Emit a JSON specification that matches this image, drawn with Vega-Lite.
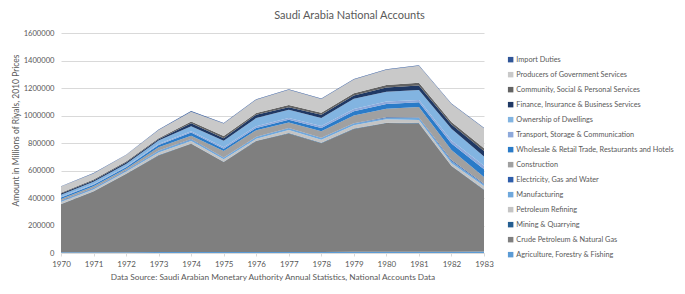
{
"$schema": "https://vega.github.io/schema/vega-lite/v6.json",
"width": 423, "height": 220,
"autosize": {"type": "none"},
"padding": {"left": 61, "top": 33, "right": 201, "bottom": 41},
"background": "white",
"config": {"view": {"stroke": null}, "font": "Lato"},
"title": {"text": "Saudi Arabia National Accounts", "fontSize": 11, "font": "Lato", "fontWeight": "normal", "color": "#595959", "frame": "group", "anchor": "middle", "dx": 77, "offset": 8},
"datasets": {"d": [
{"year":1970,"sector":"Agriculture, Forestry & Fishing","value":6000},
{"year":1970,"sector":"Crude Petroleum & Natural Gas","value":349000},
{"year":1970,"sector":"Mining & Quarrying","value":2000},
{"year":1970,"sector":"Petroleum Refining","value":14000},
{"year":1970,"sector":"Manufacturing","value":8000},
{"year":1970,"sector":"Electricity, Gas and Water","value":2000},
{"year":1970,"sector":"Construction","value":12000},
{"year":1970,"sector":"Wholesale & Retail Trade, Restaurants and Hotels","value":10000},
{"year":1970,"sector":"Transport, Storage & Communication","value":6000},
{"year":1970,"sector":"Ownership of Dwellings","value":15000},
{"year":1970,"sector":"Finance, Insurance & Business Services","value":8000},
{"year":1970,"sector":"Community, Social & Personal Services","value":7000},
{"year":1970,"sector":"Producers of Government Services","value":44000},
{"year":1970,"sector":"Import Duties","value":3000},
{"year":1971,"sector":"Agriculture, Forestry & Fishing","value":6000},
{"year":1971,"sector":"Crude Petroleum & Natural Gas","value":442000},
{"year":1971,"sector":"Mining & Quarrying","value":2000},
{"year":1971,"sector":"Petroleum Refining","value":12000},
{"year":1971,"sector":"Manufacturing","value":8000},
{"year":1971,"sector":"Electricity, Gas and Water","value":2000},
{"year":1971,"sector":"Construction","value":13000},
{"year":1971,"sector":"Wholesale & Retail Trade, Restaurants and Hotels","value":11000},
{"year":1971,"sector":"Transport, Storage & Communication","value":6000},
{"year":1971,"sector":"Ownership of Dwellings","value":16000},
{"year":1971,"sector":"Finance, Insurance & Business Services","value":9000},
{"year":1971,"sector":"Community, Social & Personal Services","value":7000},
{"year":1971,"sector":"Producers of Government Services","value":44000},
{"year":1971,"sector":"Import Duties","value":3000},
{"year":1972,"sector":"Agriculture, Forestry & Fishing","value":6000},
{"year":1972,"sector":"Crude Petroleum & Natural Gas","value":569000},
{"year":1972,"sector":"Mining & Quarrying","value":2000},
{"year":1972,"sector":"Petroleum Refining","value":14000},
{"year":1972,"sector":"Manufacturing","value":8000},
{"year":1972,"sector":"Electricity, Gas and Water","value":2000},
{"year":1972,"sector":"Construction","value":12000},
{"year":1972,"sector":"Wholesale & Retail Trade, Restaurants and Hotels","value":11000},
{"year":1972,"sector":"Transport, Storage & Communication","value":6000},
{"year":1972,"sector":"Ownership of Dwellings","value":18000},
{"year":1972,"sector":"Finance, Insurance & Business Services","value":10000},
{"year":1972,"sector":"Community, Social & Personal Services","value":8000},
{"year":1972,"sector":"Producers of Government Services","value":46000},
{"year":1972,"sector":"Import Duties","value":3000},
{"year":1973,"sector":"Agriculture, Forestry & Fishing","value":7000},
{"year":1973,"sector":"Crude Petroleum & Natural Gas","value":703000},
{"year":1973,"sector":"Mining & Quarrying","value":2000},
{"year":1973,"sector":"Petroleum Refining","value":19000},
{"year":1973,"sector":"Manufacturing","value":12000},
{"year":1973,"sector":"Electricity, Gas and Water","value":2000},
{"year":1973,"sector":"Construction","value":24000},
{"year":1973,"sector":"Wholesale & Retail Trade, Restaurants and Hotels","value":17000},
{"year":1973,"sector":"Transport, Storage & Communication","value":6000},
{"year":1973,"sector":"Ownership of Dwellings","value":26000},
{"year":1973,"sector":"Finance, Insurance & Business Services","value":10000},
{"year":1973,"sector":"Community, Social & Personal Services","value":7000},
{"year":1973,"sector":"Producers of Government Services","value":60000},
{"year":1973,"sector":"Import Duties","value":3000},
{"year":1974,"sector":"Agriculture, Forestry & Fishing","value":7000},
{"year":1974,"sector":"Crude Petroleum & Natural Gas","value":788000},
{"year":1974,"sector":"Mining & Quarrying","value":2000},
{"year":1974,"sector":"Petroleum Refining","value":17000},
{"year":1974,"sector":"Manufacturing","value":12000},
{"year":1974,"sector":"Electricity, Gas and Water","value":3000},
{"year":1974,"sector":"Construction","value":24000},
{"year":1974,"sector":"Wholesale & Retail Trade, Restaurants and Hotels","value":24000},
{"year":1974,"sector":"Transport, Storage & Communication","value":8000},
{"year":1974,"sector":"Ownership of Dwellings","value":36000},
{"year":1974,"sector":"Finance, Insurance & Business Services","value":22000},
{"year":1974,"sector":"Community, Social & Personal Services","value":13000},
{"year":1974,"sector":"Producers of Government Services","value":72000},
{"year":1974,"sector":"Import Duties","value":4000},
{"year":1975,"sector":"Agriculture, Forestry & Fishing","value":7000},
{"year":1975,"sector":"Crude Petroleum & Natural Gas","value":654000},
{"year":1975,"sector":"Mining & Quarrying","value":2000},
{"year":1975,"sector":"Petroleum Refining","value":19000},
{"year":1975,"sector":"Manufacturing","value":10000},
{"year":1975,"sector":"Electricity, Gas and Water","value":2000},
{"year":1975,"sector":"Construction","value":48000},
{"year":1975,"sector":"Wholesale & Retail Trade, Restaurants and Hotels","value":17000},
{"year":1975,"sector":"Transport, Storage & Communication","value":10000},
{"year":1975,"sector":"Ownership of Dwellings","value":48000},
{"year":1975,"sector":"Finance, Insurance & Business Services","value":17000},
{"year":1975,"sector":"Community, Social & Personal Services","value":17000},
{"year":1975,"sector":"Producers of Government Services","value":90000},
{"year":1975,"sector":"Import Duties","value":4000},
{"year":1976,"sector":"Agriculture, Forestry & Fishing","value":8000},
{"year":1976,"sector":"Crude Petroleum & Natural Gas","value":806000},
{"year":1976,"sector":"Mining & Quarrying","value":3000},
{"year":1976,"sector":"Petroleum Refining","value":14000},
{"year":1976,"sector":"Manufacturing","value":12000},
{"year":1976,"sector":"Electricity, Gas and Water","value":2000},
{"year":1976,"sector":"Construction","value":48000},
{"year":1976,"sector":"Wholesale & Retail Trade, Restaurants and Hotels","value":17000},
{"year":1976,"sector":"Transport, Storage & Communication","value":12000},
{"year":1976,"sector":"Ownership of Dwellings","value":60000},
{"year":1976,"sector":"Finance, Insurance & Business Services","value":24000},
{"year":1976,"sector":"Community, Social & Personal Services","value":12000},
{"year":1976,"sector":"Producers of Government Services","value":97000},
{"year":1976,"sector":"Import Duties","value":4000},
{"year":1977,"sector":"Agriculture, Forestry & Fishing","value":8000},
{"year":1977,"sector":"Crude Petroleum & Natural Gas","value":862000},
{"year":1977,"sector":"Mining & Quarrying","value":3000},
{"year":1977,"sector":"Petroleum Refining","value":22000},
{"year":1977,"sector":"Manufacturing","value":12000},
{"year":1977,"sector":"Electricity, Gas and Water","value":2000},
{"year":1977,"sector":"Construction","value":41000},
{"year":1977,"sector":"Wholesale & Retail Trade, Restaurants and Hotels","value":19000},
{"year":1977,"sector":"Transport, Storage & Communication","value":12000},
{"year":1977,"sector":"Ownership of Dwellings","value":60000},
{"year":1977,"sector":"Finance, Insurance & Business Services","value":19000},
{"year":1977,"sector":"Community, Social & Personal Services","value":17000},
{"year":1977,"sector":"Producers of Government Services","value":110000},
{"year":1977,"sector":"Import Duties","value":4000},
{"year":1978,"sector":"Agriculture, Forestry & Fishing","value":8000},
{"year":1978,"sector":"Crude Petroleum & Natural Gas","value":791000},
{"year":1978,"sector":"Mining & Quarrying","value":3000},
{"year":1978,"sector":"Petroleum Refining","value":22000},
{"year":1978,"sector":"Manufacturing","value":12000},
{"year":1978,"sector":"Electricity, Gas and Water","value":2000},
{"year":1978,"sector":"Construction","value":48000},
{"year":1978,"sector":"Wholesale & Retail Trade, Restaurants and Hotels","value":24000},
{"year":1978,"sector":"Transport, Storage & Communication","value":14000},
{"year":1978,"sector":"Ownership of Dwellings","value":58000},
{"year":1978,"sector":"Finance, Insurance & Business Services","value":24000},
{"year":1978,"sector":"Community, Social & Personal Services","value":14000},
{"year":1978,"sector":"Producers of Government Services","value":100000},
{"year":1978,"sector":"Import Duties","value":4000},
{"year":1979,"sector":"Agriculture, Forestry & Fishing","value":9000},
{"year":1979,"sector":"Crude Petroleum & Natural Gas","value":893000},
{"year":1979,"sector":"Mining & Quarrying","value":3000},
{"year":1979,"sector":"Petroleum Refining","value":24000},
{"year":1979,"sector":"Manufacturing","value":12000},
{"year":1979,"sector":"Electricity, Gas and Water","value":3000},
{"year":1979,"sector":"Construction","value":56000},
{"year":1979,"sector":"Wholesale & Retail Trade, Restaurants and Hotels","value":31000},
{"year":1979,"sector":"Transport, Storage & Communication","value":17000},
{"year":1979,"sector":"Ownership of Dwellings","value":73000},
{"year":1979,"sector":"Finance, Insurance & Business Services","value":24000},
{"year":1979,"sector":"Community, Social & Personal Services","value":17000},
{"year":1979,"sector":"Producers of Government Services","value":100000},
{"year":1979,"sector":"Import Duties","value":4000},
{"year":1980,"sector":"Agriculture, Forestry & Fishing","value":9000},
{"year":1980,"sector":"Crude Petroleum & Natural Gas","value":936000},
{"year":1980,"sector":"Mining & Quarrying","value":3000},
{"year":1980,"sector":"Petroleum Refining","value":24000},
{"year":1980,"sector":"Manufacturing","value":10000},
{"year":1980,"sector":"Electricity, Gas and Water","value":5000},
{"year":1980,"sector":"Construction","value":63000},
{"year":1980,"sector":"Wholesale & Retail Trade, Restaurants and Hotels","value":34000},
{"year":1980,"sector":"Transport, Storage & Communication","value":17000},
{"year":1980,"sector":"Ownership of Dwellings","value":72000},
{"year":1980,"sector":"Finance, Insurance & Business Services","value":31000},
{"year":1980,"sector":"Community, Social & Personal Services","value":17000},
{"year":1980,"sector":"Producers of Government Services","value":112000},
{"year":1980,"sector":"Import Duties","value":4000},
{"year":1981,"sector":"Agriculture, Forestry & Fishing","value":10000},
{"year":1981,"sector":"Crude Petroleum & Natural Gas","value":932000},
{"year":1981,"sector":"Mining & Quarrying","value":3000},
{"year":1981,"sector":"Petroleum Refining","value":22000},
{"year":1981,"sector":"Manufacturing","value":14000},
{"year":1981,"sector":"Electricity, Gas and Water","value":5000},
{"year":1981,"sector":"Construction","value":75000},
{"year":1981,"sector":"Wholesale & Retail Trade, Restaurants and Hotels","value":36000},
{"year":1981,"sector":"Transport, Storage & Communication","value":15000},
{"year":1981,"sector":"Ownership of Dwellings","value":73000},
{"year":1981,"sector":"Finance, Insurance & Business Services","value":34000},
{"year":1981,"sector":"Community, Social & Personal Services","value":19000},
{"year":1981,"sector":"Producers of Government Services","value":124000},
{"year":1981,"sector":"Import Duties","value":4000},
{"year":1982,"sector":"Agriculture, Forestry & Fishing","value":10000},
{"year":1982,"sector":"Crude Petroleum & Natural Gas","value":622000},
{"year":1982,"sector":"Mining & Quarrying","value":3000},
{"year":1982,"sector":"Petroleum Refining","value":17000},
{"year":1982,"sector":"Manufacturing","value":18000},
{"year":1982,"sector":"Electricity, Gas and Water","value":6000},
{"year":1982,"sector":"Construction","value":73000},
{"year":1982,"sector":"Wholesale & Retail Trade, Restaurants and Hotels","value":48000},
{"year":1982,"sector":"Transport, Storage & Communication","value":22000},
{"year":1982,"sector":"Ownership of Dwellings","value":85000},
{"year":1982,"sector":"Finance, Insurance & Business Services","value":31000},
{"year":1982,"sector":"Community, Social & Personal Services","value":17000},
{"year":1982,"sector":"Producers of Government Services","value":131000},
{"year":1982,"sector":"Import Duties","value":4000},
{"year":1983,"sector":"Agriculture, Forestry & Fishing","value":11000},
{"year":1983,"sector":"Crude Petroleum & Natural Gas","value":448000},
{"year":1983,"sector":"Mining & Quarrying","value":3000},
{"year":1983,"sector":"Petroleum Refining","value":25000},
{"year":1983,"sector":"Manufacturing","value":12000},
{"year":1983,"sector":"Electricity, Gas and Water","value":5000},
{"year":1983,"sector":"Construction","value":48000},
{"year":1983,"sector":"Wholesale & Retail Trade, Restaurants and Hotels","value":58000},
{"year":1983,"sector":"Transport, Storage & Communication","value":24000},
{"year":1983,"sector":"Ownership of Dwellings","value":68000},
{"year":1983,"sector":"Finance, Insurance & Business Services","value":40000},
{"year":1983,"sector":"Community, Social & Personal Services","value":20000},
{"year":1983,"sector":"Producers of Government Services","value":145000},
{"year":1983,"sector":"Import Duties","value":4000}
]},
"data": {"name": "d"},
"transform": [{"calculate": "indexof(['Agriculture, Forestry & Fishing','Crude Petroleum & Natural Gas','Mining & Quarrying','Petroleum Refining','Manufacturing','Electricity, Gas and Water','Construction','Wholesale & Retail Trade, Restaurants and Hotels','Transport, Storage & Communication','Ownership of Dwellings','Finance, Insurance & Business Services','Community, Social & Personal Services','Producers of Government Services','Import Duties'], datum.sector)", "as": "k"}],
"mark": {"type": "area", "interpolate": "linear"},
"encoding": {
"x": {"field": "year", "type": "quantitative", "scale": {"domain": [1970, 1983], "nice": false},
  "axis": {"values": [1970,1971,1972,1973,1974,1975,1976,1977,1978,1979,1980,1981,1982,1983], "format": "d", "grid": false, "labelFlush": false, "labelOverlap": false,
  "title": "Data Source: Saudi Arabian Monetary Authority Annual Statistics, National Accounts Data",
  "domainColor": "#D9D9D9", "tickColor": "#D9D9D9", "tickSize": 3, "labelFontSize": 8, "labelColor": "#595959", "labelPadding": 4,
  "titleFontSize": 8.3, "titleColor": "#595959", "titleFontWeight": "normal", "titlePadding": 4, "labelFont": "Lato", "titleFont": "Lato"}},
"y": {"field": "value", "type": "quantitative", "stack": "zero", "scale": {"domain": [0, 1600000], "nice": false},
  "axis": {"values": [0,200000,400000,600000,800000,1000000,1200000,1400000,1600000], "format": "d", "domain": false, "ticks": false,
  "gridColor": "#D9D9D9", "labelFontSize": 7.6, "labelColor": "#595959", "labelPadding": 7, "labelFont": "Lato",
  "title": "Amount in Millions of Riyals, 2010 Prices", "titleFont": "Lato", "titleFontSize": 8.5, "titleColor": "#595959", "titleFontWeight": "normal",
  "titleX": -46, "titleY": 97, "titleBaseline": "middle", "titleAlign": "center", "titleAngle": 270}},
"color": {"field": "sector", "type": "nominal",
  "scale": {"domain": ["Import Duties","Producers of Government Services","Community, Social & Personal Services","Finance, Insurance & Business Services","Ownership of Dwellings","Transport, Storage & Communication","Wholesale & Retail Trade, Restaurants and Hotels","Construction","Electricity, Gas and Water","Manufacturing","Petroleum Refining","Mining & Quarrying","Crude Petroleum & Natural Gas","Agriculture, Forestry & Fishing"],
   "range": ["#2F5597","#C9C9C9","#636363","#1F3864","#82B4E1","#8EA9DB","#2A7BC8","#A0A0A0","#2E5DAA","#6FA8DC","#C4C4C4","#255E91","#7F7F7F","#5B9BD5"]},
  "legend": {"orient": "none", "legendX": 446, "legendY": 23, "title": null, "symbolType": "square", "symbolSize": 30, "symbolStrokeWidth": 0,
   "labelFont": "Lato", "labelFontSize": 7.3, "labelColor": "#595959", "labelOffset": 2, "labelLimit": 300, "rowPadding": 7}},
"order": {"field": "k", "type": "quantitative"}
}
}
